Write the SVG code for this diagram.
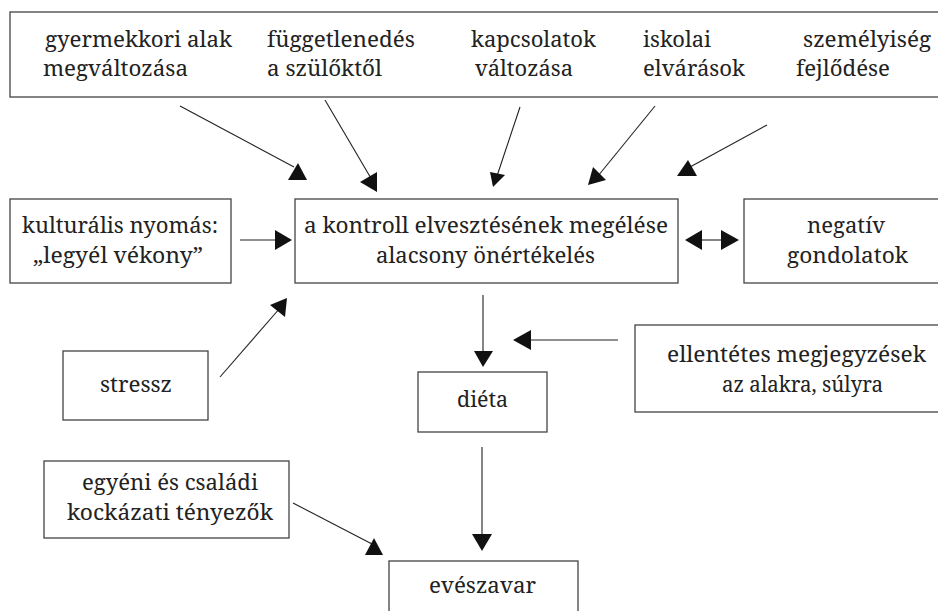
<svg xmlns="http://www.w3.org/2000/svg" width="938" height="611" viewBox="0 0 938 611">
<style>
.box{fill:#fff;stroke:#444;stroke-width:1.3}
.ln{stroke:#222;stroke-width:1.1;fill:none}
.hd{fill:#111;stroke:none}
</style>
<rect width="938" height="611" fill="#fff"/>
<g id="connectors">
<line class="ln" x1="180" y1="106" x2="294" y2="167"/>
<polygon class="hd" points="288,180 307,180 298,163"/>
<line class="ln" x1="325" y1="100" x2="372" y2="180"/>
<polygon class="hd" points="360,182 377,172 377,192"/>
<line class="ln" x1="520" y1="107" x2="497" y2="176"/>
<polygon class="hd" points="490,172 505,175 493,187"/>
<line class="ln" x1="655" y1="106" x2="598" y2="176"/>
<polygon class="hd" points="588,185 593,167 606,180"/>
<line class="ln" x1="767" y1="125" x2="690" y2="167"/>
<polygon class="hd" points="677,176 697,176 688,160"/>
<line class="ln" x1="240" y1="240" x2="277" y2="240"/>
<polygon class="hd" points="275,230 275,250 292,240"/>
<line class="ln" x1="220" y1="377" x2="280" y2="308"/>
<polygon class="hd" points="270,305 287,298 285,317"/>
<line class="ln" x1="700" y1="240" x2="722" y2="240"/>
<polygon class="hd" points="685,240 702,230 702,250"/>
<polygon class="hd" points="739,240 721,230 721,250"/>
<line class="ln" x1="483" y1="295" x2="483" y2="354"/>
<polygon class="hd" points="474,351 493,351 483,367"/>
<line class="ln" x1="529" y1="340" x2="618" y2="340"/>
<polygon class="hd" points="513,340 531,330 531,350"/>
<line class="ln" x1="482" y1="447" x2="482" y2="537"/>
<polygon class="hd" points="472,534 492,534 482,551"/>
<line class="ln" x1="293" y1="503" x2="372" y2="544"/>
<polygon class="hd" points="374,538 365,555 383,555"/>
</g>
<g id="nodes" font-family="Noto Serif, Liberation Serif, serif" font-size="21" fill="#222">
<g id="top-factors">
<rect class="box" x="10" y="12" width="940" height="85"/>
<text x="45" y="47" textLength="187" lengthAdjust="spacingAndGlyphs">gyermekkori alak</text>
<text x="43" y="76" textLength="145" lengthAdjust="spacingAndGlyphs">megváltozása</text>
<text x="267" y="47" textLength="148" lengthAdjust="spacingAndGlyphs">függetlenedés</text>
<text x="267" y="76" textLength="115" lengthAdjust="spacingAndGlyphs">a szülőktől</text>
<text x="471" y="47" textLength="125" lengthAdjust="spacingAndGlyphs">kapcsolatok</text>
<text x="475" y="76" textLength="98" lengthAdjust="spacingAndGlyphs">változása</text>
<text x="643" y="47" textLength="68" lengthAdjust="spacingAndGlyphs">iskolai</text>
<text x="643" y="76" textLength="102" lengthAdjust="spacingAndGlyphs">elvárások</text>
<text x="803" y="47" textLength="128" lengthAdjust="spacingAndGlyphs">személyiség</text>
<text x="796" y="76" textLength="94" lengthAdjust="spacingAndGlyphs">fejlődése</text>
</g>
<g id="kulturalis">
<rect class="box" x="10" y="199" width="221" height="84"/>
<text x="22" y="233" textLength="196" lengthAdjust="spacingAndGlyphs">kulturális nyomás:</text>
<text x="33" y="263" textLength="170" lengthAdjust="spacingAndGlyphs">„legyél vékony”</text>
</g>
<g id="kontroll">
<rect class="box" x="295" y="199" width="383" height="84"/>
<text x="304" y="233" textLength="364" lengthAdjust="spacingAndGlyphs">a kontroll elvesztésének megélése</text>
<text x="376" y="263" textLength="219" lengthAdjust="spacingAndGlyphs">alacsony önértékelés</text>
</g>
<g id="negativ">
<rect class="box" x="744" y="199" width="210" height="84"/>
<text x="807" y="233" textLength="78" lengthAdjust="spacingAndGlyphs">negatív</text>
<text x="787" y="263" textLength="121" lengthAdjust="spacingAndGlyphs">gondolatok</text>
</g>
<g id="stressz">
<rect class="box" x="63" y="351" width="145" height="69"/>
<text x="100" y="392" textLength="72" lengthAdjust="spacingAndGlyphs">stressz</text>
</g>
<g id="dieta">
<rect class="box" x="418" y="372" width="129" height="60"/>
<text x="457" y="407" textLength="51" lengthAdjust="spacingAndGlyphs">diéta</text>
</g>
<g id="ellentetes">
<rect class="box" x="635" y="325" width="320" height="87"/>
<text x="667" y="362" textLength="259" lengthAdjust="spacingAndGlyphs">ellentétes megjegyzések</text>
<text x="722" y="392" textLength="161" lengthAdjust="spacingAndGlyphs">az alakra, súlyra</text>
</g>
<g id="egyeni">
<rect class="box" x="44" y="461" width="245" height="77"/>
<text x="82" y="490" textLength="176" lengthAdjust="spacingAndGlyphs">egyéni és családi</text>
<text x="67" y="520" textLength="206" lengthAdjust="spacingAndGlyphs">kockázati tényezők</text>
</g>
<g id="eveszavar">
<rect class="box" x="389" y="561" width="189" height="60"/>
<text x="429" y="593" textLength="107" lengthAdjust="spacingAndGlyphs">evészavar</text>
</g>
</g>
</svg>
